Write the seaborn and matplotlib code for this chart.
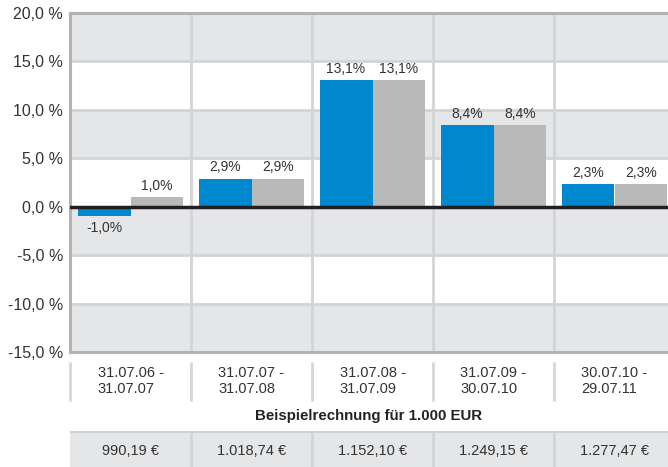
import matplotlib
matplotlib.use("Agg")
import matplotlib.pyplot as plt
import numpy as np
import pandas as pd
import seaborn as sns

# data
periods = ["31.07.06 -\n31.07.07", "31.07.07 -\n31.07.08", "31.07.08 -\n31.07.09",
           "31.07.09 -\n30.07.10", "30.07.10 -\n29.07.11"]
fund = [-1.0, 2.9, 13.1, 8.4, 2.3]
benchmark = [1.0, 2.9, 13.1, 8.4, 2.3]
example_values = ["990,19 €", "1.018,74 €", "1.152,10 €", "1.249,15 €", "1.277,47 €"]
y_ticks = [-15, -10, -5, 0, 5, 10, 15, 20]
table_title = "Beispielrechnung für 1.000 EUR"

BLUE = "#0088cf"
GREY_BAR = "#b9b9b9"
BAND = "#e5e6e8"
GRID = "#d3d4d6"
SPINE = "#b3b3b3"
TEXT = "#333333"

sns.set_style("white")
plt.rcParams["font.family"] = ["Liberation Sans", "DejaVu Sans"]

df = pd.DataFrame({
    "period": periods * 2,
    "value": fund + benchmark,
    "series": ["fund"] * len(periods) + ["benchmark"] * len(periods),
})

W, H = 668, 467
fig = plt.figure(figsize=(W / 100, H / 100), dpi=100)

left_px, right_px, top_px, bottom_px = 70, 668, 13, 352
cat_px = 121
xlim = (-0.5, -0.5 + (right_px - left_px) / cat_px)

ax = fig.add_axes([left_px / W, (H - bottom_px) / H,
                   (right_px - left_px) / W, (bottom_px - top_px) / H])

# background bands
for i, lo in enumerate(y_ticks[:-1]):
    if i % 2 == 0:
        ax.axhspan(lo, lo + 5, color=BAND, lw=0, zorder=0)
for t in y_ticks[1:-1]:
    ax.axhline(t, color=GRID, lw=2, zorder=0.5)
for x in np.arange(0.5, len(periods), 1):
    ax.axvline(x, color=GRID, lw=2, zorder=0.5)

sns.barplot(data=df, x="period", y="value", hue="series",
            palette=[BLUE, GREY_BAR], width=0.876, saturation=1,
            legend=False, ax=ax, zorder=2, gap=0, linewidth=0, edgecolor="none")

for cont in ax.containers:
    labels = [f"{b.get_height():.1f}%".replace(".", ",") for b in cont]
    ax.bar_label(cont, labels=labels, padding=3, fontsize=10, color=TEXT)

ax.axhline(0, color="#231f20", lw=2.5, zorder=3)

ax.set_xlim(*xlim)
ax.set_ylim(-15, 20)
ax.set_yticks(y_ticks)
ax.set_yticklabels([f"{t:.1f} %".replace(".", ",") for t in y_ticks],
                   fontsize=11.5, color=TEXT)
ax.tick_params(axis="y", length=0, pad=5)
ax.set_xticks([])
ax.set_xlabel("")
ax.set_ylabel("")
for side in ["left", "top", "bottom"]:
    ax.spines[side].set_color(SPINE)
    ax.spines[side].set_linewidth(2.2)
ax.spines["right"].set_visible(False)

# table below the chart
tab = fig.add_axes([left_px / W, 0, (right_px - left_px) / W, (H - bottom_px) / H])
tab.set_xlim(*xlim)
tab.set_ylim(0, 1)
tab.axis("off")

tab.vlines(np.arange(-0.5, len(periods), 1), 0.574, 0.913,
           color="#d6d6d6", lw=2, clip_on=False)
for i, p in enumerate(periods):
    tab.text(i, 0.748, p, ha="center", va="center", fontsize=10.5,
             color=TEXT, linespacing=1.15, multialignment="left")

tab.text((xlim[0] + xlim[1]) / 2, 0.443, table_title,
         ha="center", va="center", fontsize=10.8, fontweight="bold", color="#222222")

tab.axhspan(0, 0.304, color=BAND, lw=0)
tab.axhline(0.304, color="#d0d1d3", lw=1.5)
tab.vlines(np.arange(0.5, len(periods), 1), 0, 0.304, color=GRID, lw=2)
for i, v in enumerate(example_values):
    tab.text(i, 0.14, v, ha="center", va="center", fontsize=10.5, color=TEXT)

fig.savefig("out.png", dpi=100)
